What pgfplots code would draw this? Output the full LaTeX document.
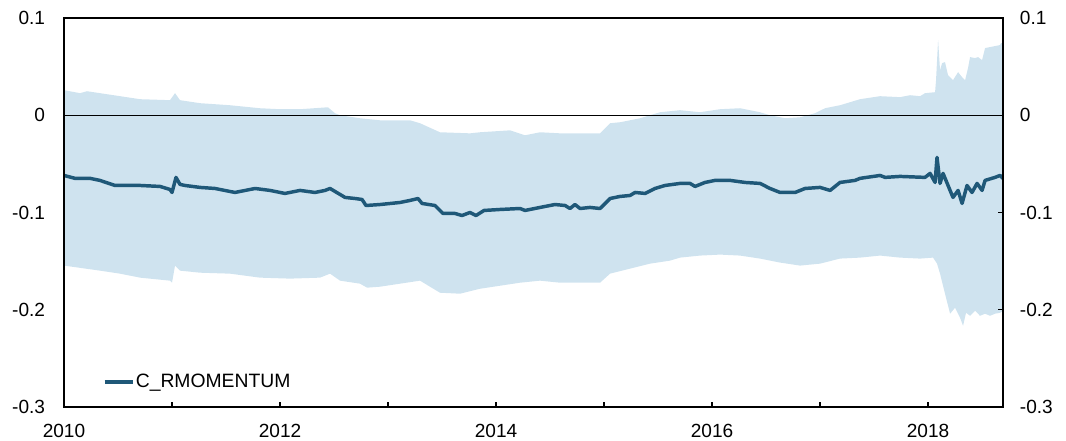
\documentclass[border=0pt]{standalone}
\usepackage{pgfplots}
\pgfplotsset{compat=1.18}
\usepackage{pgfplotstable}
\usepgfplotslibrary{fillbetween}
\usepackage{fontspec}
\setmainfont{Liberation Sans}
\definecolor{band}{RGB}{207,227,239}
\definecolor{mline}{RGB}{31,88,120}

\pgfplotstableread{
x y
2010.000 -0.0619
2010.102 -0.0649
2010.241 -0.0649
2010.333 -0.0670
2010.472 -0.0722
2010.704 -0.0722
2010.889 -0.0732
2010.981 -0.0763
2011.000 -0.0794
2011.037 -0.0639
2011.074 -0.0711
2011.120 -0.0722
2011.259 -0.0742
2011.398 -0.0753
2011.583 -0.0794
2011.769 -0.0753
2011.907 -0.0773
2012.046 -0.0804
2012.185 -0.0773
2012.324 -0.0794
2012.417 -0.0773
2012.463 -0.0753
2012.602 -0.0845
2012.694 -0.0856
2012.759 -0.0866
2012.796 -0.0928
2012.926 -0.0918
2013.111 -0.0897
2013.204 -0.0876
2013.278 -0.0856
2013.315 -0.0907
2013.435 -0.0928
2013.509 -0.1010
2013.620 -0.1010
2013.685 -0.1031
2013.759 -0.1000
2013.815 -0.1031
2013.889 -0.0979
2014.037 -0.0969
2014.222 -0.0959
2014.269 -0.0979
2014.407 -0.0948
2014.546 -0.0918
2014.639 -0.0928
2014.685 -0.0959
2014.731 -0.0918
2014.778 -0.0959
2014.870 -0.0948
2014.963 -0.0959
2015.056 -0.0856
2015.148 -0.0835
2015.241 -0.0825
2015.287 -0.0794
2015.380 -0.0804
2015.472 -0.0753
2015.565 -0.0722
2015.704 -0.0701
2015.796 -0.0701
2015.843 -0.0732
2015.935 -0.0691
2016.028 -0.0670
2016.167 -0.0670
2016.306 -0.0691
2016.444 -0.0701
2016.537 -0.0753
2016.630 -0.0794
2016.769 -0.0794
2016.861 -0.0753
2017.000 -0.0742
2017.093 -0.0773
2017.185 -0.0691
2017.324 -0.0670
2017.370 -0.0649
2017.556 -0.0619
2017.602 -0.0639
2017.741 -0.0629
2017.972 -0.0639
2018.019 -0.0598
2018.065 -0.0691
2018.083 -0.0433
2018.111 -0.0701
2018.139 -0.0598
2018.204 -0.0773
2018.231 -0.0845
2018.278 -0.0773
2018.315 -0.0907
2018.361 -0.0722
2018.407 -0.0794
2018.454 -0.0701
2018.500 -0.0773
2018.528 -0.0670
2018.620 -0.0639
2018.667 -0.0619
2018.694 -0.0649
}\meantable

\pgfplotstableread{
x y
2010.000 0.0258
2010.148 0.0227
2010.213 0.0247
2010.333 0.0227
2010.519 0.0196
2010.704 0.0165
2010.981 0.0155
2011.028 0.0227
2011.074 0.0155
2011.259 0.0124
2011.537 0.0103
2011.815 0.0072
2012.000 0.0062
2012.185 0.0062
2012.444 0.0082
2012.509 0.0021
2012.556 0.0000
2012.741 -0.0031
2012.926 -0.0052
2013.204 -0.0052
2013.296 -0.0082
2013.481 -0.0175
2013.759 -0.0186
2013.852 -0.0175
2014.130 -0.0155
2014.269 -0.0206
2014.407 -0.0175
2014.593 -0.0186
2014.963 -0.0186
2015.056 -0.0082
2015.148 -0.0072
2015.333 -0.0031
2015.426 0.0000
2015.519 0.0031
2015.704 0.0052
2015.889 0.0031
2016.074 0.0062
2016.259 0.0072
2016.444 0.0031
2016.537 0.0000
2016.676 -0.0031
2016.815 -0.0021
2016.954 0.0021
2017.046 0.0072
2017.185 0.0103
2017.278 0.0134
2017.370 0.0165
2017.556 0.0196
2017.741 0.0186
2017.833 0.0206
2017.926 0.0196
2017.972 0.0227
2018.065 0.0237
2018.074 0.0361
2018.093 0.0773
2018.111 0.0464
2018.130 0.0536
2018.157 0.0546
2018.185 0.0412
2018.231 0.0361
2018.278 0.0443
2018.315 0.0392
2018.343 0.0361
2018.370 0.0485
2018.389 0.0598
2018.435 0.0588
2018.463 0.0598
2018.500 0.0567
2018.528 0.0691
2018.574 0.0701
2018.667 0.0722
2018.676 0.0742
2018.694 0.0742
}\uppertable

\pgfplotstableread{
x y
2010.000 -0.1546
2010.333 -0.1598
2010.519 -0.1629
2010.704 -0.1670
2010.981 -0.1701
2011.000 -0.1722
2011.028 -0.1546
2011.074 -0.1598
2011.259 -0.1619
2011.537 -0.1629
2011.815 -0.1670
2012.093 -0.1680
2012.370 -0.1670
2012.463 -0.1629
2012.556 -0.1701
2012.741 -0.1732
2012.806 -0.1773
2012.926 -0.1763
2013.111 -0.1732
2013.296 -0.1701
2013.481 -0.1825
2013.667 -0.1835
2013.852 -0.1784
2014.037 -0.1753
2014.222 -0.1722
2014.407 -0.1701
2014.593 -0.1722
2014.963 -0.1722
2015.056 -0.1629
2015.241 -0.1577
2015.426 -0.1526
2015.611 -0.1495
2015.704 -0.1464
2015.889 -0.1443
2016.074 -0.1433
2016.259 -0.1443
2016.444 -0.1474
2016.630 -0.1515
2016.815 -0.1546
2017.000 -0.1526
2017.185 -0.1474
2017.370 -0.1464
2017.556 -0.1443
2017.741 -0.1464
2017.926 -0.1474
2018.046 -0.1464
2018.083 -0.1526
2018.111 -0.1629
2018.157 -0.1835
2018.204 -0.2041
2018.250 -0.1979
2018.296 -0.2082
2018.324 -0.2165
2018.352 -0.2031
2018.389 -0.2062
2018.435 -0.2010
2018.481 -0.2062
2018.528 -0.2041
2018.574 -0.2062
2018.620 -0.2041
2018.667 -0.2031
2018.694 -0.2010
}\lowertable

\begin{document}
\begin{tikzpicture}
\pgfplotsset{
  common/.style={
    width=704.25pt, height=291.75pt, scale only axis,
    xmin=2010, xmax=2018.694, ymin=-0.3, ymax=0.1,
    ytick={-0.3,-0.2,-0.1,0,0.1},
    yticklabels={-0.3,-0.2,-0.1,0,0.1},
    tick label style={font=\fontsize{14.3}{16}\selectfont, inner sep=0pt},
  }
}
\begin{axis}[common,
  axis on top,
  axis line style={black, line width=0.9pt},
  xtick={2010,2011,...,2018},
  xticklabels={2010,,2012,,2014,,2016,,2018},
  xtick pos=bottom,
  ytick pos=right,
  yticklabel pos=left,
  tick align=inside,
  major tick length=4pt,
  tick style={black, line width=0.9pt},
  yticklabel style={anchor=east, xshift=-14pt},
  xticklabel style={anchor=north, yshift=-12.5pt},
  legend style={at={(axis description cs:0.041,0.0643)}, anchor=west,
    draw=none, fill=none, inner sep=0pt,
    font=\fontsize{14.5}{16}\selectfont,
    nodes={inner sep=1.2pt}},
  legend image code/.code={\draw[#1] (0pt,0pt) -- (21pt,0pt);},
]
\addplot[name path=U, draw=none, forget plot] table {\uppertable};
\addplot[name path=L, draw=none, forget plot] table {\lowertable};
\addplot[band, draw=none, forget plot] fill between[of=U and L];
\addplot[black, line width=0.8pt, forget plot] coordinates {(2010,0) (2018.694,0)};
\addplot[mline, line width=2.6pt, line join=round] table {\meantable};
\addlegendentry{C\_RMOMENTUM}
\end{axis}
\begin{axis}[common,
  hide x axis,
  axis y line*=right,
  y axis line style={draw=none},
  ytick style={draw=none},
  yticklabel style={anchor=west, xshift=12.5pt},
]
\end{axis}
\pgfresetboundingbox
\path[use as bounding box] ([xshift=-48pt,yshift=-25.5pt]current axis.south west) rectangle ([xshift=47.25pt,yshift=13.5pt]current axis.north east);
\end{tikzpicture}
\end{document}
